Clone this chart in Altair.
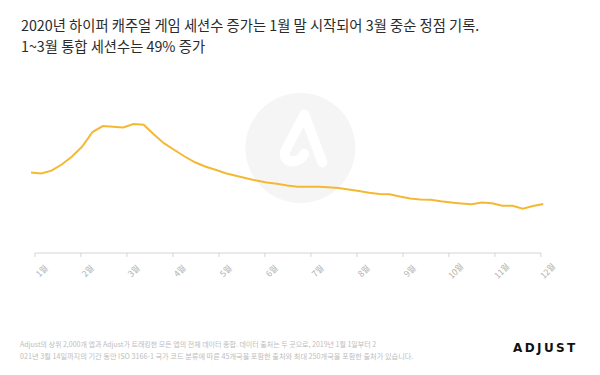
import altair as alt
import pandas as pd

# weekly session index for hyper-casual games (first week = 100), 2020
week_index = list(range(51))
sessions = [100.0, 98.8, 102.3, 110.0, 120.0, 132.5, 150.6, 158.1, 157.3, 156.3,
            160.6, 159.8, 147.5, 136.3, 128.1, 120.0, 112.8, 107.5, 103.4, 99.1,
            96.0, 92.9, 89.9, 87.4, 85.9, 83.8, 82.3, 82.3, 82.3, 81.6,
            80.6, 78.8, 76.9, 74.6, 73.1, 72.8, 70.0, 67.5, 66.3, 65.9,
            64.0, 62.6, 61.4, 60.3, 62.5, 61.5, 58.5, 58.4, 54.8, 58.1, 60.6]

# month ticks expressed in week units
month_ticks = [0.33, 4.82, 9.31, 13.8, 18.29, 22.78, 27.27, 31.76, 36.25, 40.74, 45.23, 49.72]
month_labels = ["1월", "2월", "3월", "4월", "5월", "6월", "7월", "8월", "9월", "10월", "11월", "12월"]

title_1 = "2020년 하이퍼 캐주얼 게임 세션수 증가는 1월 말 시작되어 3월 중순 정점 기록."
title_2 = "1~3월  통합 세션수는 49% 증가"
foot_1 = "Adjust의 상위 2,000개 앱과 Adjust가 트래킹한 모든 앱의 전체 데이터 종합. 데이터 출처는 두 곳으로, 2019년 1월 1일부터 2"
foot_2 = "021년 3월 14일까지의 기간 동안 ISO 3166-1 국가 코드 분류에 따른 45개국을 포함한 출처와 최대 250개국을 포함한 출처가 있습니다."
brand = "A\u2009D\u2009J\u2009U\u2009S\u2009T"

FONT = "Noto Sans CJK KR"

df = pd.DataFrame({"week": week_index, "value": sessions})

label_expr = "[" + ",".join("'%s'" % m for m in month_labels) + "][round((datum.value-0.33)/4.49)]"

x_enc = alt.X(
    "week:Q",
    scale=alt.Scale(domain=[month_ticks[0], month_ticks[-1]], nice=False, zero=False),
    axis=alt.Axis(
        values=month_ticks, labelExpr=label_expr, title=None, grid=False,
        domainColor="#d4d4d4", tickColor="#d4d4d4", tickSize=4,
        labelAngle=315, labelAlign="center", labelBaseline="middle",
        labelPadding=14, labelOffset=7, labelColor="#b0b0b0",
        labelFont=FONT, labelFontSize=8.5,
    ),
)
y_enc = alt.Y("value:Q", scale=alt.Scale(domain=[0, 237.5], nice=False), axis=None)

# watermark
wm = alt.Chart(pd.DataFrame({"k": [0]})).mark_point(
    shape="circle", filled=True, color="#f5f5f5", opacity=1, size=12100
).encode(x=alt.value(266), y=alt.value(85.5))

logo_path = "M 0.5 0.5 L 0.05 -0.7 L -0.38 0.12 C -0.62 0.5 -0.1 0.6 0.05 0.28"
wm_logo = alt.Chart(pd.DataFrame({"k": [0]})).mark_point(
    shape=logo_path, filled=False, stroke="#ffffff", strokeWidth=10,
    opacity=1, size=6400, strokeCap="round", strokeJoin="round"
).encode(x=alt.value(268), y=alt.value(80))

line = alt.Chart(df).mark_line(color="#F5B833", strokeWidth=2).encode(x=x_enc, y=y_enc)


def txt(s, x, y, size, color, weight="normal", font=FONT):
    return alt.Chart(pd.DataFrame({"t": [s]})).mark_text(
        align="left", baseline="middle", font=font, fontSize=size,
        color=color, fontWeight=weight
    ).encode(text="t:N", x=alt.value(x), y=alt.value(y))


t1 = txt(title_1, -13.4, -35.5, 14.3, "#2b2b2b")
t2 = txt(title_2, -13.4, -14.5, 14.3, "#2b2b2b")
f1 = txt(foot_1, -14.4, 282.5, 7, "#bdbdbd")
f2 = txt(foot_2, -14.4, 294.5, 7.2, "#bdbdbd")
b = txt(brand, 478.6, 285, 12, "#111111", "bold", "DejaVu Sans")

chart = alt.layer(wm, wm_logo, line, t1, t2, f1, f2, b).properties(
    width=506, height=190,
    autosize=alt.AutoSizeParams(type="none"),
    padding={"left": 26.4, "top": 54.5, "right": 51.6, "bottom": 114.5},
).configure(background="#ffffff").configure_view(stroke=None)

chart.save("out.html", embed_options={"renderer": "svg", "actions": False})
